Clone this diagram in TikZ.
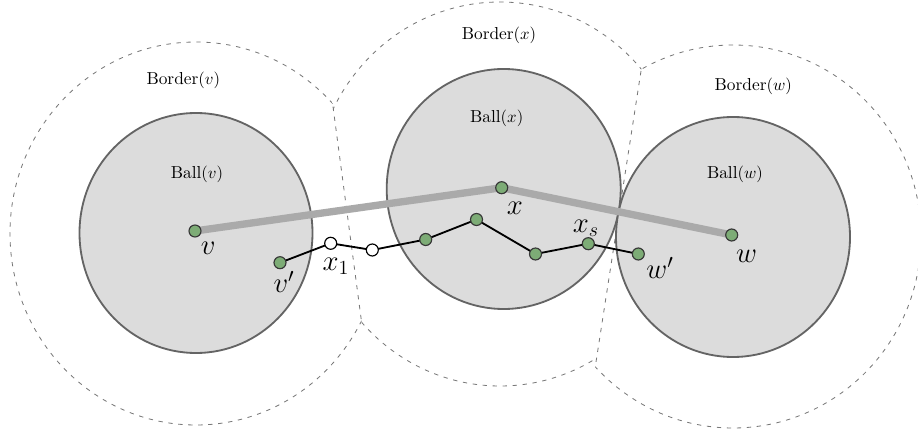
\documentclass[tikz,border=0pt]{standalone}
\definecolor{ballfill}{RGB}{220,220,220}
\definecolor{balledge}{RGB}{100,100,100}
\definecolor{bordc}{RGB}{120,120,120}
\definecolor{linkgray}{RGB}{170,170,170}
\definecolor{dotgreen}{RGB}{125,172,118}
\definecolor{dotedge}{RGB}{55,55,55}
\pgfdeclarelayer{balls}
\pgfdeclarelayer{links}
\pgfsetlayers{balls,links,main}
\begin{document}
\begin{tikzpicture}[x=0.6pt,y=-0.6pt,
  bordline/.style={draw=bordc, line width=0.5pt, dash pattern=on 2.6pt off 3.4pt},
  ball/.style={fill=ballfill, draw=balledge, line width=1.1pt},
  dot/.style={circle, inner sep=0pt, minimum size=7.2pt, draw=dotedge, line width=0.7pt, fill=dotgreen},
  wdot/.style={dot, fill=white, draw=black},
  lbl/.style={font=\fontsize{10.4}{12}\selectfont, inner sep=0pt},
  mlbl/.style={font=\fontsize{17.5}{20}\selectfont, inner sep=0pt},
  graylink/.style={draw=linkgray, line width=4.4pt},
  pathlink/.style={draw=black, line width=1.1pt}]
\useasboundingbox (0,0) rectangle (918,433);

\begin{pgfonlayer}{balls}
  % borders, clipped to their cells
  \begin{scope}
    \clip (-20,-60) -- (312.2,-50) -- (385.2,500) -- (-20,500) -- cycle;
    \path[bordline] (196,233.5) ellipse [x radius=186, y radius=191.5];
  \end{scope}
  \begin{scope}
    \clip (312.2,-50) -- (659.7,-50) -- (574.7,500) -- (385.2,500) -- cycle;
    \path[bordline] (500,194) ellipse [x radius=186, y radius=192];
  \end{scope}
  \begin{scope}
    \clip (659.7,-50) -- (950,-50) -- (950,500) -- (574.7,500) -- cycle;
    \path[bordline] (733,236.5) ellipse [x radius=188, y radius=191.5];
  \end{scope}
  \coordinate (j1) at (333,106.7);
  \coordinate (j2) at (361.7,323);
  \coordinate (j3) at (641,71);
  \coordinate (j4) at (596,362);
  \path[bordline] (j1) -- (j2);
  \path[bordline] (j3) -- (j4);
  % balls
  \path[ball] (196,233) ellipse [x radius=116.5, y radius=120];
  \path[ball] (503.7,189) ellipse [x radius=117, y radius=120];
  \path[ball] (733,237) ellipse [x radius=117, y radius=120];
\end{pgfonlayer}

% labels of regions
\node[lbl] (bordv) at (183.3,80) {Border$(v)$};
\node[lbl] (bordx) at (499,35) {Border$(x)$};
\node[lbl] (bordw) at (753.3,86.7) {Border$(w)$};
\node[lbl] (ballv) at (197,174) {Ball$(v)$};
\node[lbl] (ballx) at (496.7,118.3) {Ball$(x)$};
\node[lbl] (ballw) at (735,174) {Ball$(w)$};

% centres
\node[dot] (v) at (195,231) {};
\node[dot] (x) at (501.7,187.7) {};
\node[dot] (w) at (731.7,235) {};

% path
\node[dot] (vp) at (280,262.7) {};
\node[wdot] (xa) at (330.7,243.3) {};
\node[wdot] (xb) at (372.3,250) {};
\node[dot] (p1) at (425.7,239.5) {};
\node[dot] (p2) at (476.5,219.5) {};
\node[dot] (p3) at (535.5,254) {};
\node[dot] (xs) at (588.3,243.7) {};
\node[dot] (wp) at (638.3,254) {};

\begin{pgfonlayer}{links}
  \path[graylink] (v.center) -- (x.center) -- (w.center);
  \path[pathlink] (vp.center) -- (xa.center) -- (xb.center) -- (p1.center) -- (p2.center)
     -- (p3.center) -- (xs.center) -- (wp.center);
\end{pgfonlayer}

% point labels
\node[mlbl] (lv) at (208.3,248.3) {$v$};
\node[mlbl] (lvp) at (284,281.7) {$v'$};
\node[mlbl] (lx1) at (336,266) {$x_1$};
\node[mlbl] (lx) at (515,208) {$x$};
\node[mlbl] (lxs) at (586,228) {$x_s$};
\node[mlbl] (lwp) at (660,268) {$w'$};
\node[mlbl] (lw) at (746.7,256) {$w$};
\end{tikzpicture}
\end{document}
